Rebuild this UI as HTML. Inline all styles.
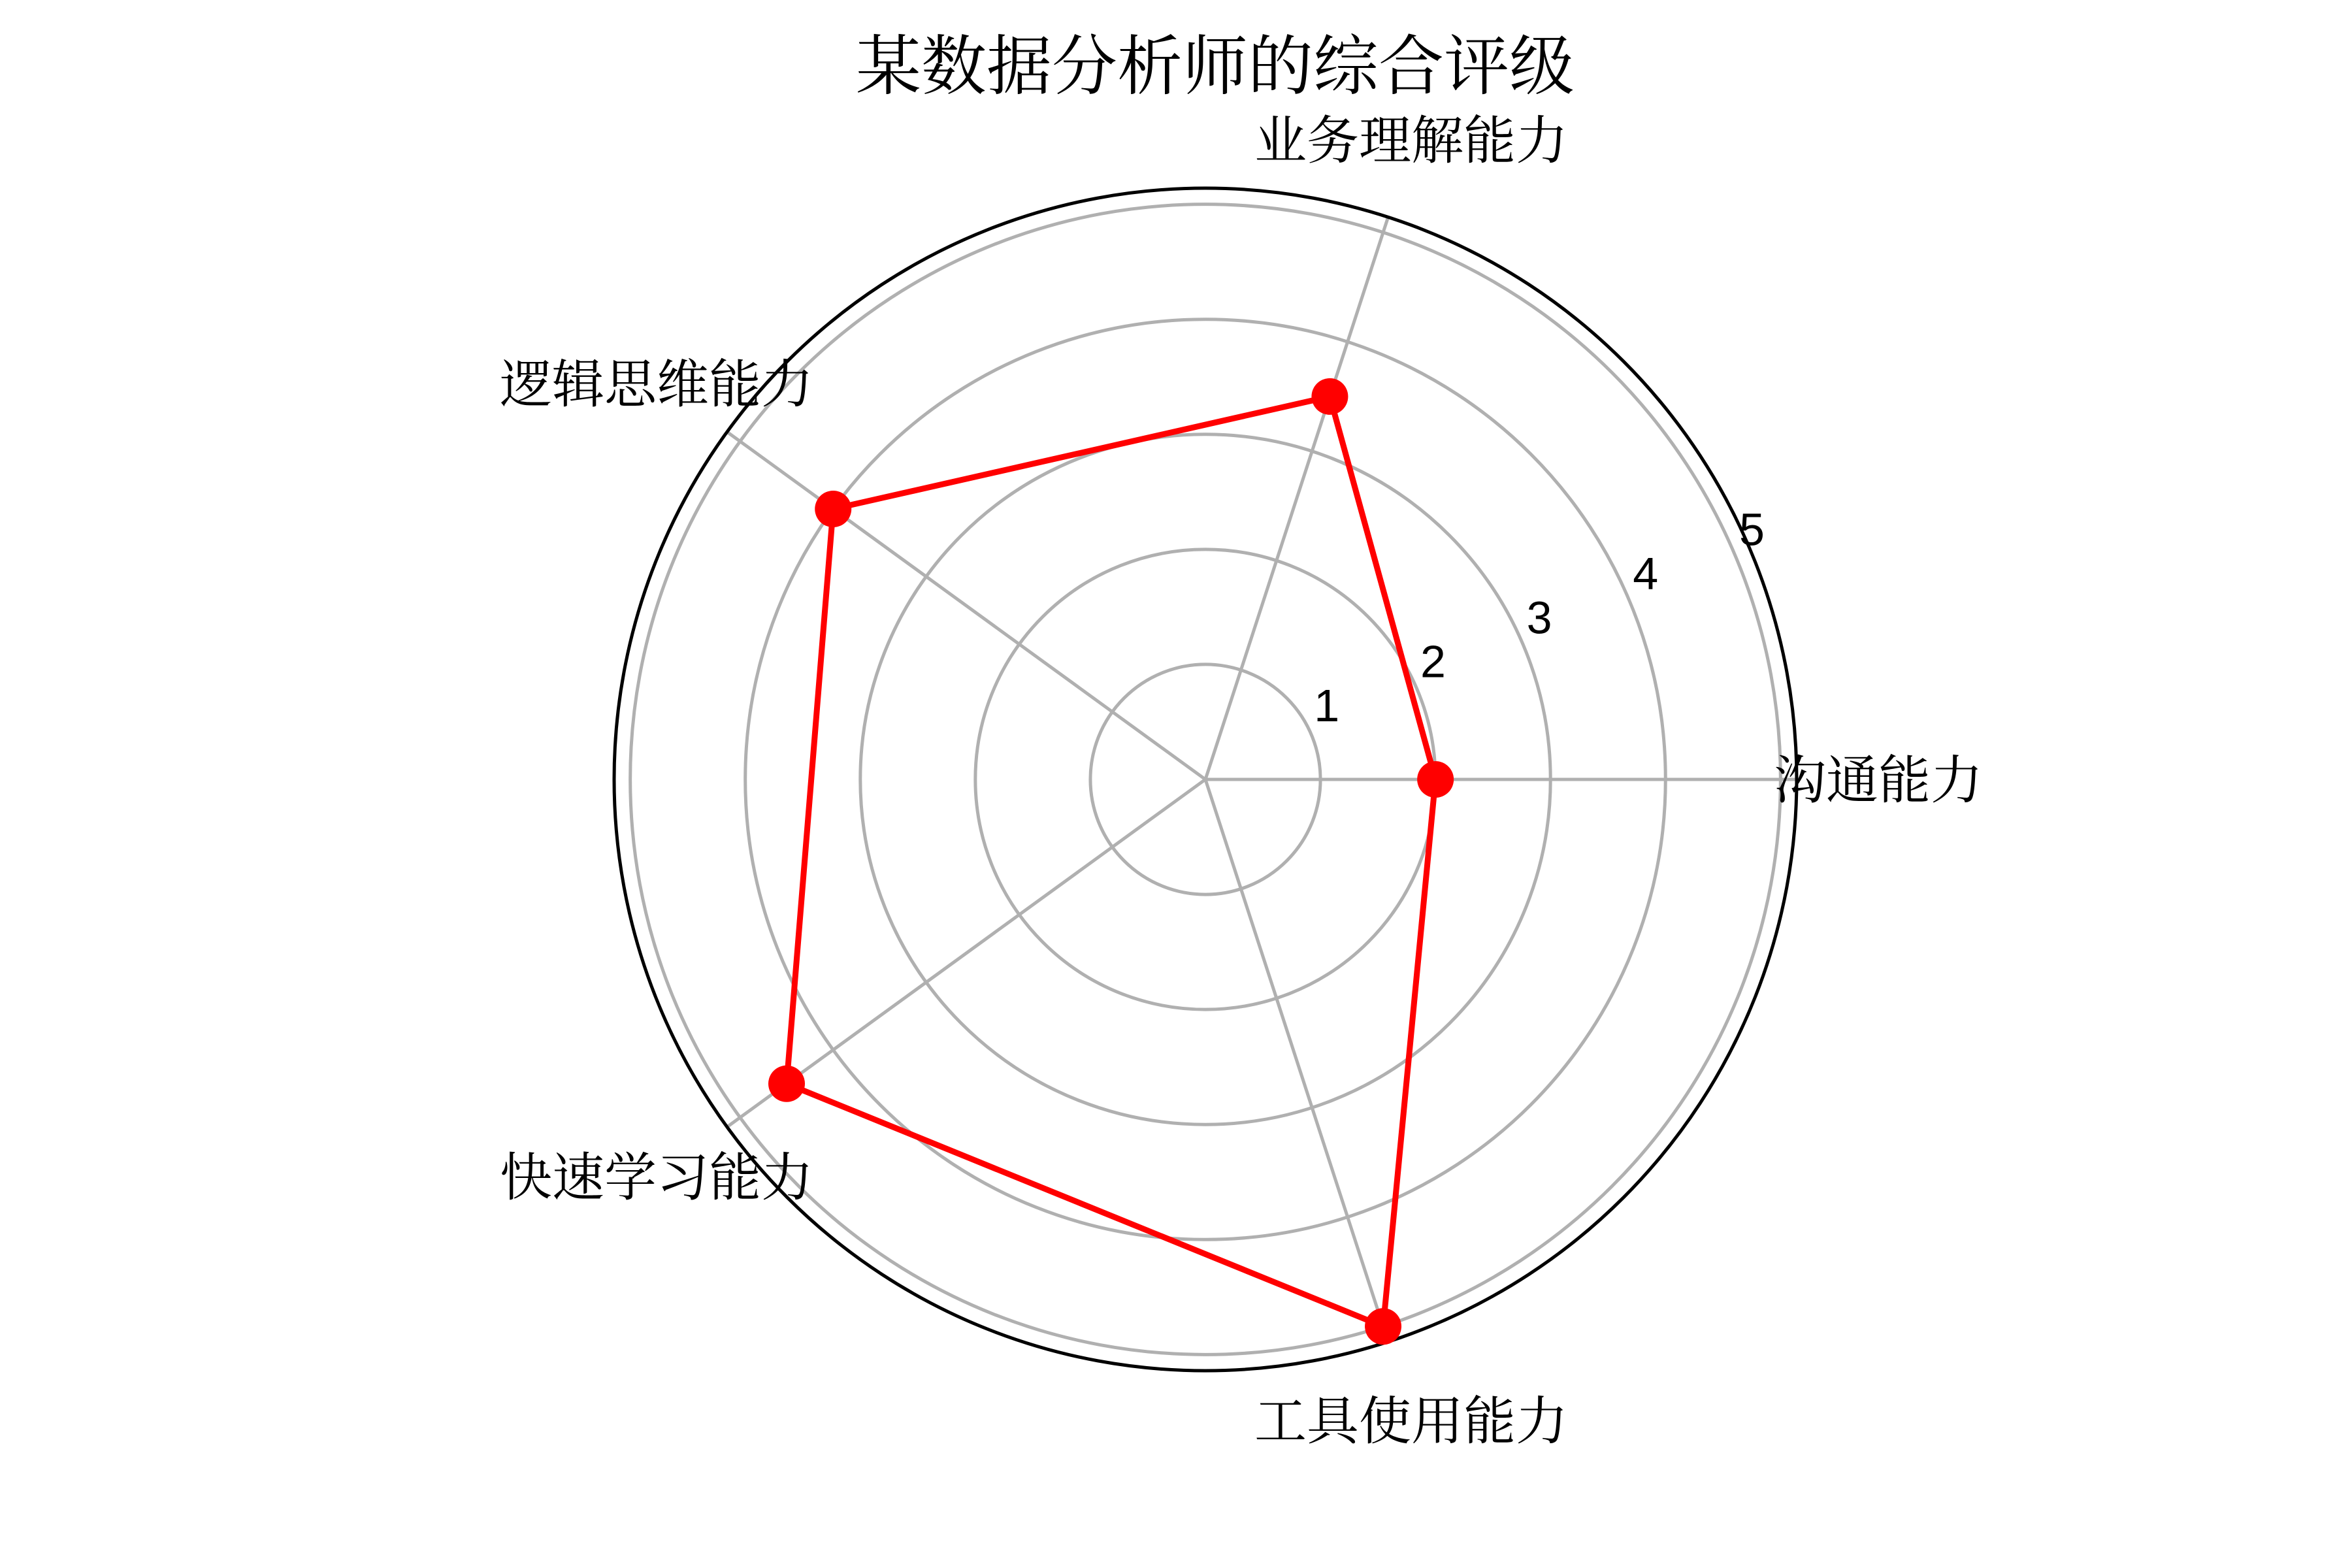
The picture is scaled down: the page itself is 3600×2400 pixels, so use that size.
<!DOCTYPE html>
<html><head><meta charset="utf-8"><style>
html,body{margin:0;padding:0;background:#fff;}
svg{display:block;}
text{font-family:"Liberation Serif","Noto Serif CJK SC",serif;fill:#000;}
.tick{font-family:"Liberation Sans","Noto Sans CJK SC",sans-serif;}
</style></head><body>
<svg id="chart" width="3600" height="2400" viewBox="0 0 3600 2400">
<text x="1860" y="136" font-size="100" text-anchor="middle">某数据分析师的综合评级</text>
<g id="grid"></g>
<g id="labels"></g>
<g id="series"></g>
</svg>
<script>
const categories = ["沟通能力","业务理解能力","逻辑思维能力","快速学习能力","工具使用能力"];
const values = [2, 3.5, 4, 4.5, 5];
const ticks = [1, 2, 3, 4, 5];
const rMax = 5.14;

const NS = "http://www.w3.org/2000/svg";
const cx = 1845, cy = 1193, R = 905;
function rad(v){ return v / rMax * R; }
function ang(i){ return i * 2 * Math.PI / categories.length; }
function pt(i, v){ const a = ang(i), r = rad(v); return [cx + r*Math.cos(a), cy - r*Math.sin(a)]; }
function mk(tag, attrs, parent){ const e = document.createElementNS(NS, tag); for (const k in attrs) e.setAttribute(k, attrs[k]); parent.appendChild(e); return e; }

const grid = document.getElementById("grid");
ticks.forEach((t) => {
  const c = mk("circle", {cx:cx, cy:cy, r:rad(t), fill:"none", stroke:"#b0b0b0", "stroke-width":5}, grid);
  
  
});
categories.forEach((c, i) => {
  const [x, y] = pt(i, rMax);
  const l = mk("line", {x1:cx, y1:cy, x2:x, y2:y, stroke:"#b0b0b0", "stroke-width":5}, grid);
  
  
});
const outer = mk("circle", {cx:cx, cy:cy, r:R, fill:"none", stroke:"#000", "stroke-width":5}, grid);



ticks.forEach((t) => {
  const a = 22.5 * Math.PI / 180, r = rad(t) + 25;
  const tx = mk("text", {x:cx + r*Math.cos(a), y:cy - r*Math.sin(a) - 12, "font-size":70, "text-anchor":"middle", class:"tick"}, grid);
  tx.textContent = t;
  
  
});

const labelPos = [[2875,1222],[2160,243],[1005,616],[1005,1830],[2160,2203]];
const labels = document.getElementById("labels");
categories.forEach((c, i) => {
  const tx = mk("text", {x:labelPos[i][0], y:labelPos[i][1], "font-size":80, "text-anchor":"middle"}, labels);
  tx.textContent = c;
  
  
});

const series = document.getElementById("series");
const pts = values.map((v, i) => pt(i, v));
const poly = mk("polygon", {points: pts.map(p => p.join(",")).join(" "), fill:"none", stroke:"#ff0000", "stroke-width":9, "stroke-linejoin":"miter"}, series);


pts.forEach((p, i) => {
  const m = mk("circle", {cx:p[0], cy:p[1], r:28, fill:"#ff0000"}, series);
  
  
});
</script>
</body></html>
